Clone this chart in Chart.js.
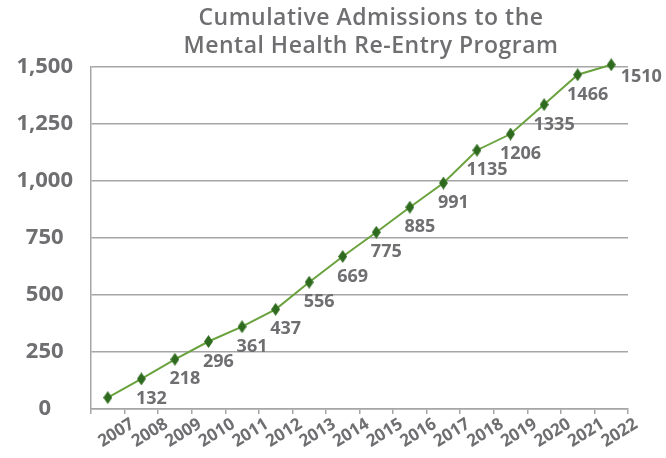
<!DOCTYPE html>
<html>
<head>
<meta charset="utf-8">
<script src="https://cdn.jsdelivr.net/npm/chart.js@4/dist/chart.umd.min.js"></script>
<style>
  html, body { margin: 0; padding: 0; background: #fff; }
  #wrap { width: 666px; height: 458px; }
</style>
</head>
<body>
<div id="wrap"><canvas id="AdmChart" width="666" height="458"></canvas></div>
<script>
const years = ['2007', '2008', '2009', '2010', '2011', '2012', '2013', '2014',
               '2015', '2016', '2017', '2018', '2019', '2020', '2021', '2022'];
const admissions = [50, 132, 218, 296, 361, 437, 556, 669, 775, 885, 991, 1135, 1206, 1335, 1466, 1510];
const yTicks = [0, 250, 500, 750, 1000, 1250, 1500];
const titleLines = ['Cumulative Admissions to the', 'Mental Health Re-Entry Program'];

const grey = '#6f6f72';
const font = "'Open Sans', 'Lato', sans-serif";

// tall diamond marker
function makeDiamond() {
  const c = document.createElement('canvas');
  c.width = 9; c.height = 13;
  const g = c.getContext('2d');
  g.fillStyle = '#2f6b1f';
  g.beginPath();
  g.moveTo(4.5, 0); g.lineTo(9, 6.5); g.lineTo(4.5, 13); g.lineTo(0, 6.5);
  g.closePath();
  g.fill();
  return c;
}

// title drawn by hand so it can sit a little right of the canvas centre
const titlePlugin = {
  id: 'titlePlugin',
  afterDraw(chart) {
    const ctx = chart.ctx;
    ctx.save();
    ctx.font = `600 23px ${font}`;
    ctx.letterSpacing = '0.5px';
    ctx.fillStyle = grey;
    ctx.textAlign = 'center';
    ctx.textBaseline = 'middle';
    titleLines.forEach((t, i) => ctx.fillText(t, 371, 18 + i * 28));
    ctx.restore();
  }
};

// value labels under each point (first one is not labelled)
const valueLabels = {
  id: 'valueLabels',
  afterDatasetsDraw(chart) {
    const ctx = chart.ctx;
    const pts = chart.getDatasetMeta(0).data;
    ctx.save();
    ctx.font = `bold 18px ${font}`;
    ctx.fillStyle = grey;
    ctx.textAlign = 'center';
    ctx.textBaseline = 'middle';
    pts.forEach((p, i) => {
      if (i === 0) return;
      const last = i === pts.length - 1;
      const dx = last ? 30 : 10;
      const dy = last ? 12 : 20;
      ctx.fillText(String(admissions[i]), p.x + dx, p.y + dy);
    });
    ctx.restore();
  }
};

const ctx = document.getElementById('AdmChart').getContext('2d');
new Chart(ctx, {
  type: 'line',
  data: {
    labels: years,
    datasets: [{
      label: 'Cumulative admissions',
      data: admissions,
      borderColor: '#6aa23e',
      borderWidth: 2,
      backgroundColor: '#2f6b1f',
      pointStyle: makeDiamond(),
      tension: 0,
      clip: false
    }]
  },
  options: {
    responsive: false,
    animation: false,
    layout: { padding: { left: 0, right: 38, top: 67, bottom: 0 } },
    plugins: {
      legend: { display: false },
      tooltip: { enabled: false },
      title: { display: false }
    },
    scales: {
      x: {
        offset: true,
        grid: {
          offset: true,
          drawOnChartArea: false,
          drawTicks: true,
          tickLength: 5,
          color: '#a6a6a6',
          lineWidth: 1.5
        },
        border: { color: '#a6a6a6', width: 1.5 },
        ticks: {
          color: grey,
          font: { family: font, size: 17, weight: 'bold' },
          minRotation: 32,
          maxRotation: 32,
          labelOffset: 25,
          padding: 0,
          autoSkip: false
        },
        afterFit(scale) { scale.height = 49; }
      },
      y: {
        min: 0,
        max: 1500,
        afterBuildTicks(scale) { scale.ticks = yTicks.map(v => ({ value: v })); },
        grid: { color: '#a6a6a6', lineWidth: 1.5, drawTicks: false },
        border: { color: '#a6a6a6', width: 1.5 },
        ticks: {
          color: grey,
          font: { family: font, size: 22, weight: 'bold' },
          padding: 18,
          crossAlign: 'center'
        },
        afterFit(scale) { scale.width = 91; }
      }
    }
  },
  plugins: [valueLabels, titlePlugin]
});
</script>
</body>
</html>
